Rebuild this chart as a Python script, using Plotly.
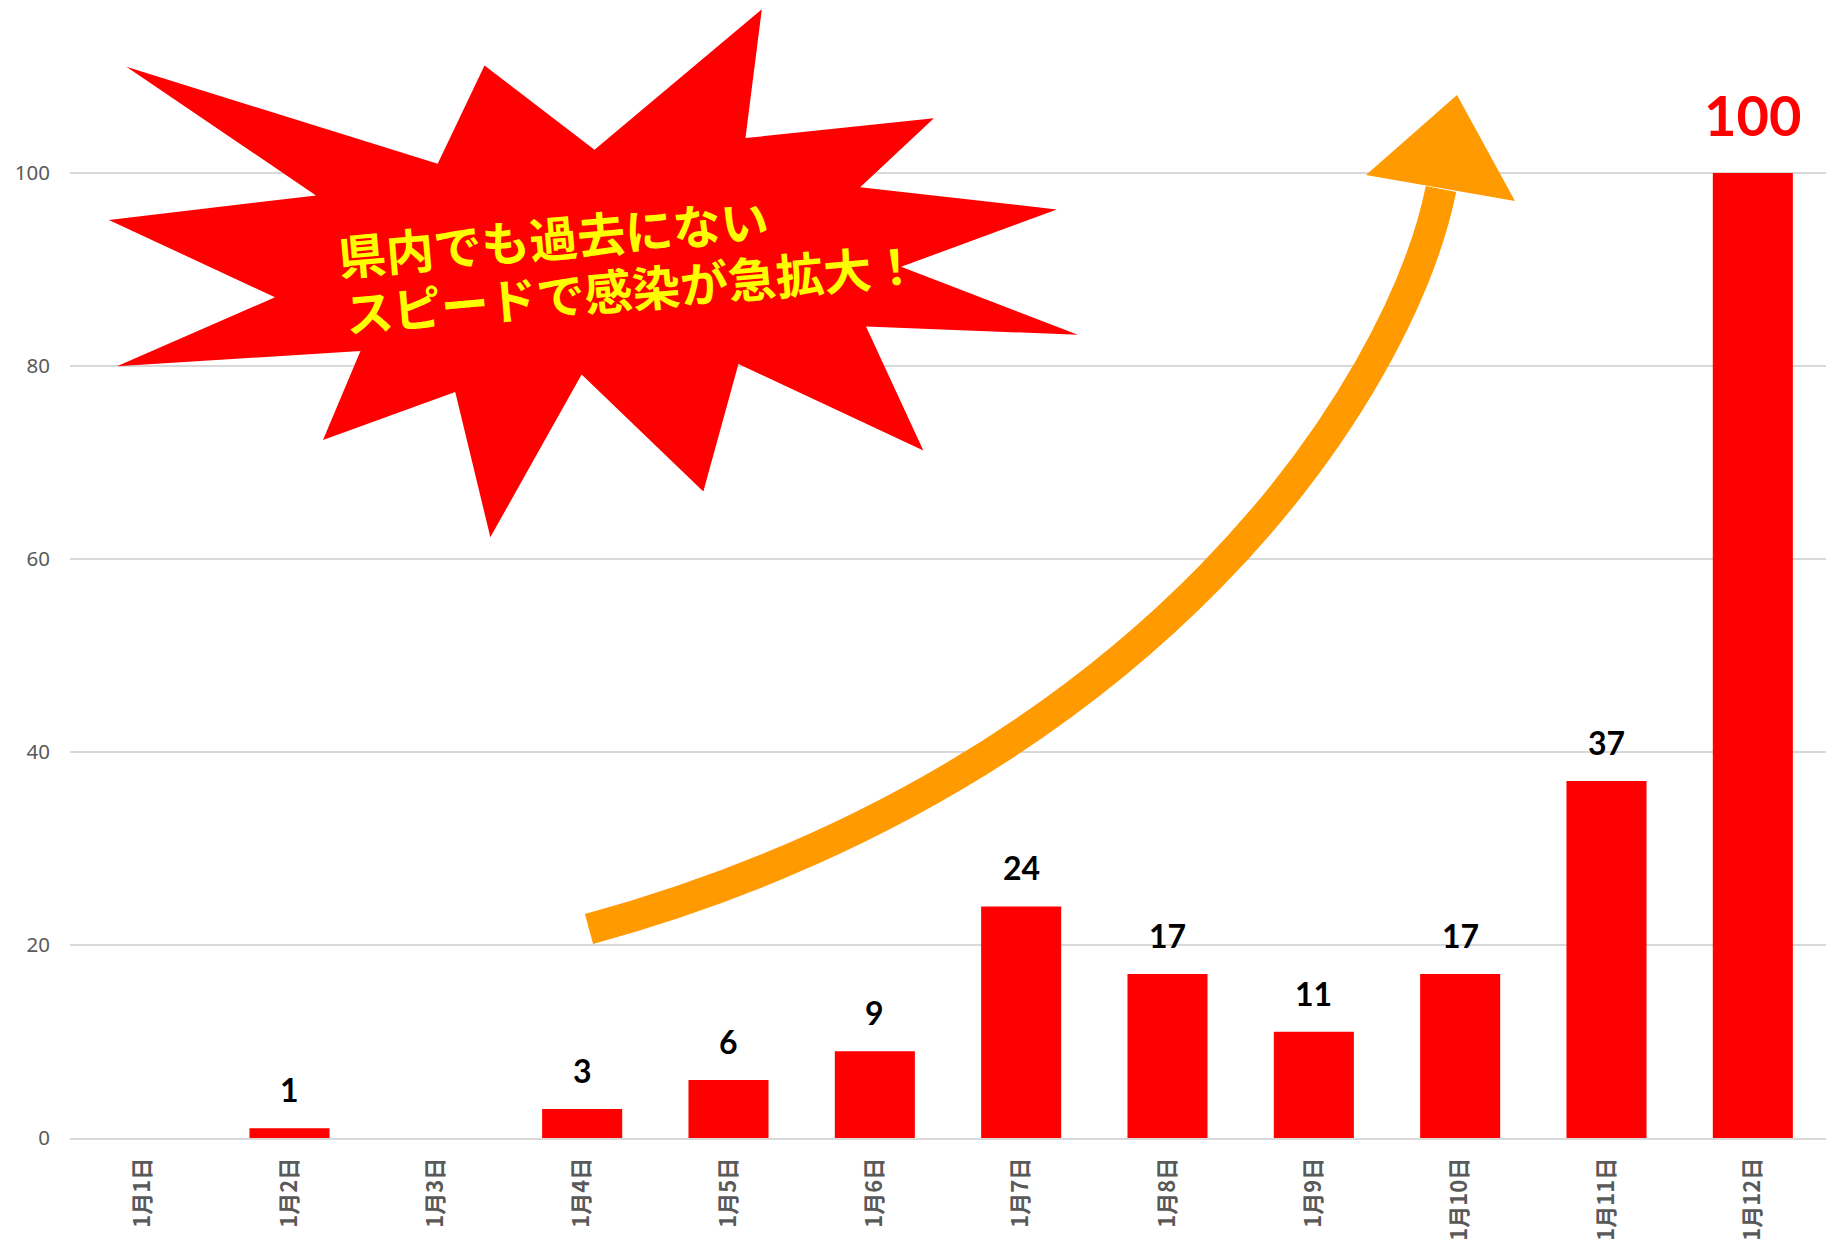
import plotly.graph_objects as go

# ---------------- data ----------------
categories = ["1月1日", "1月2日", "1月3日", "1月4日", "1月5日", "1月6日",
              "1月7日", "1月8日", "1月9日", "1月10日", "1月11日", "1月12日"]
cases = [0, 1, 0, 3, 6, 9, 24, 17, 11, 17, 37, 100]
y_ticks = [0, 20, 40, 60, 80, 100]
callout_lines = ["県内でも過去にない", "スピードで感染が急拡大！"]

# ---------------- geometry (decorations only) ----------------
# page has an 8px body margin; figure sized to fit the window
W, H = 1827, 1236
ML, MR, MT, MB = 62, 9, 0, 106
PW, PH = W - ML - MR, H - MT - MB
PX0, PY0 = 70, 1138          # plot origin in page pixels
SX, SY = 1835 / 1568, 1244 / 1063


def fpaper(fx, fy):
    """page pixel coords -> paper coords"""
    return (fx - PX0) / PW, (PY0 - fy) / PH


def to_paper(x, y):
    """reference (shrunk) pixel coords -> paper coords"""
    return fpaper(x * SX, y * SY)


burst = [(108, 57), (270, 167), (93, 188), (235, 254), (100, 313), (308, 300),
         (276, 376), (389, 335), (419, 459), (497, 320), (601, 420), (631, 311),
         (789, 385), (740, 279), (921, 286), (770, 228), (903, 179), (735, 160),
         (798, 101), (637, 118), (651, 8), (508, 128), (414, 56), (374, 140)]
pts = [to_paper(x, y) for x, y in burst]
burst_path = "M " + " L ".join(f"{px:.5f},{py:.5f}" for px, py in pts) + " Z"

# arrow body (cubic bezier, page pixels)
p0, p1, p2, p3 = (589, 929), (1152, 774), (1400, 390), (1441, 189)
q = [fpaper(*p) for p in (p0, p1, p2, p3)]
arrow_path = (f"M {q[0][0]:.5f},{q[0][1]:.5f} C {q[1][0]:.5f},{q[1][1]:.5f} "
              f"{q[2][0]:.5f},{q[2][1]:.5f} {q[3][0]:.5f},{q[3][1]:.5f}")
head = [fpaper(1457, 95), fpaper(1515, 201), fpaper(1366, 175)]
head_path = "M " + " L ".join(f"{px:.5f},{py:.5f}" for px, py in head) + " Z"

ORANGE = "#FF9A00"
RED = "#FF0000"

fig = go.Figure(go.Bar(x=categories, y=cases, marker_color=RED,
                       marker_line_width=0, hoverinfo="x+y"))

shapes = [
    dict(type="path", path=burst_path, xref="paper", yref="paper",
         fillcolor=RED, line=dict(width=0), layer="above"),
    dict(type="path", path=arrow_path, xref="paper", yref="paper",
         fillcolor="rgba(0,0,0,0)", line=dict(color=ORANGE, width=31), layer="above"),
    dict(type="path", path=head_path, xref="paper", yref="paper",
         fillcolor=ORANGE, line=dict(width=0), layer="above"),
]

annotations = []
vmax = max(cases)
for c, v in zip(categories, cases):
    if v <= 0:
        continue
    big = v == vmax
    annotations.append(dict(
        x=c, y=v, xref="x", yref="y", text=str(v), showarrow=False,
        yanchor="bottom", xanchor="center", yshift=23 if big else 17,
        font=dict(family="Lato, Noto Sans, sans-serif", size=56 if big else 32,
                  color=RED if big else "#000000", weight="bold")))

for (cx, cy), line in zip([(553, 236), (632, 287)], callout_lines):
    px, py = fpaper(cx, cy)
    annotations.append(dict(
        x=px, y=py, xref="paper", yref="paper", text=line, showarrow=False,
        xanchor="center", yanchor="middle", textangle=-5,
        font=dict(family="Noto Sans CJK JP", size=48, color="#FFFF00", weight="bold")))

fig.update_layout(
    width=W, height=H,
    margin=dict(l=ML, r=MR, t=MT, b=MB, pad=0),
    paper_bgcolor="white", plot_bgcolor="white",
    bargap=0.453, showlegend=False,
    shapes=shapes, annotations=annotations,
    font=dict(family="Noto Sans CJK JP", color="#595959"),
)
fig.update_xaxes(
    type="category", range=[-0.5, 11.5], tickangle=-90,
    showgrid=False, showline=True, linecolor="#d9d9d9", linewidth=2,
    ticks="", ticklabelstandoff=9,
    tickfont=dict(family="Noto Sans CJK JP", size=22, color="#595959", weight="bold"),
)
fig.update_yaxes(
    range=[0, (PY0 - 8) / 9.65], tickvals=y_ticks, ticktext=[str(t) for t in y_ticks],
    showgrid=True, gridcolor="#d9d9d9", gridwidth=1.5,
    zeroline=False, showline=False, ticks="", ticklabelstandoff=19,
    tickfont=dict(family="Noto Sans, sans-serif", size=20.5, color="#595959"),
)

fig.write_html("out.html")
